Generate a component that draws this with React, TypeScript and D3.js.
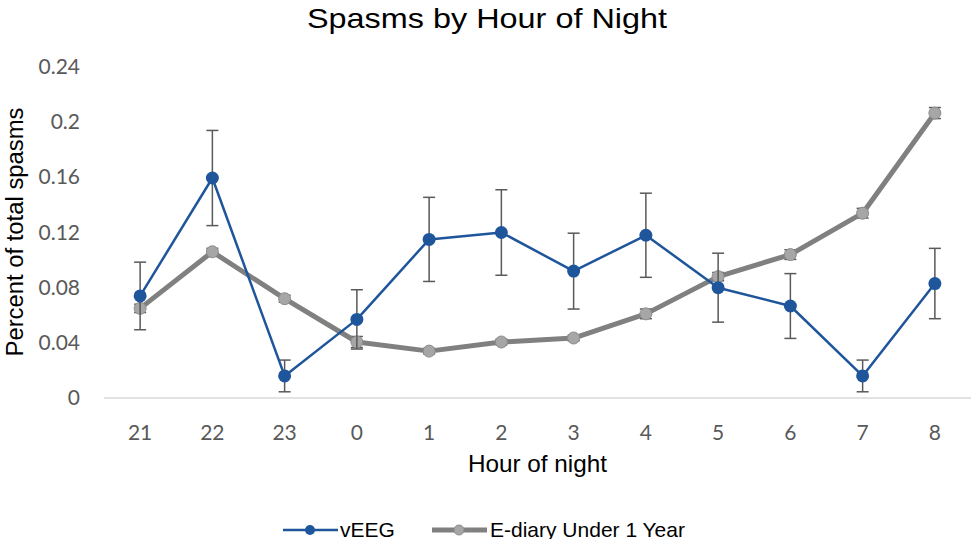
import React from "react";
import * as d3 from "d3";

const hours = ["21", "22", "23", "0", "1", "2", "3", "4", "5", "6", "7", "8"];
const veeg = [0.074, 0.1595, 0.016, 0.057, 0.115, 0.12, 0.092, 0.118, 0.08, 0.0667, 0.016, 0.083];
const veegErr = [0.0245, 0.0345, 0.0115, 0.0215, 0.0305, 0.031, 0.0275, 0.0305, 0.025, 0.0235, 0.0115, 0.0255];
const ediary = [0.065, 0.106, 0.072, 0.0406, 0.034, 0.0406, 0.0435, 0.061, 0.088, 0.104, 0.134, 0.2066];
const ediaryErr = [0.003, 0.0025, 0.0025, 0.004, 0.002, 0.002, 0.002, 0.0035, 0.003, 0.0035, 0.0035, 0.004];
const yTicks = [0, 0.04, 0.08, 0.12, 0.16, 0.2, 0.24];

const W = 975;
const H = 539;
const left = 104;
const right = 971;
const top = 67;
const bottom = 398;

export default function App() {
  const x = d3.scalePoint<string>().domain(hours).range([left, right]).padding(0.5);
  const y = d3.scaleLinear().domain([0, 0.24]).range([bottom, top]);
  const line = d3
    .line<number>()
    .x((_, i) => x(hours[i]) as number)
    .y((d) => y(d));

  const errBars = (vals: number[], errs: number[], key: string) =>
    vals.map((v, i) => {
      const cx = x(hours[i]) as number;
      const y1 = y(v + errs[i]);
      const y2 = y(v - errs[i]);
      return (
        <g key={key + i} stroke="#595959" strokeWidth={1.5}>
          <line x1={cx} x2={cx} y1={y1} y2={y2} />
          <line x1={cx - 6} x2={cx + 6} y1={y1} y2={y1} />
          <line x1={cx - 6} x2={cx + 6} y1={y2} y2={y2} />
        </g>
      );
    });

  const tickFont = "Lato, 'Open Sans', sans-serif";
  const titleFont = "'Liberation Sans', Arial, sans-serif";

  return (
    <svg
      width={W}
      height={H}
      style={{ position: "absolute", left: 0, top: 0, background: "#fff" }}
    >
      <rect width={W} height={H} fill="#fff" />
      <text
        x={487}
        y={28}
        textAnchor="middle"
        fontFamily={titleFont}
        fontSize={28}
        fill="#000"
        textLength={360}
        lengthAdjust="spacingAndGlyphs"
      >
        Spasms by Hour of Night
      </text>
      {/* y tick labels */}
      {yTicks.map((t) => (
        <text
          key={t}
          x={80}
          y={y(t) + 7}
          textAnchor="end"
          fontFamily={tickFont}
          fontSize={21}
          fill="#595959"
        >
          {String(t)}
        </text>
      ))}
      {/* baseline */}
      <line x1={left} x2={right} y1={bottom} y2={bottom} stroke="#d9d9d9" strokeWidth={1.5} />
      {/* x tick labels */}
      {hours.map((h) => (
        <text
          key={h}
          x={x(h) as number}
          y={440}
          textAnchor="middle"
          fontFamily={tickFont}
          fontSize={21}
          fill="#595959"
        >
          {h}
        </text>
      ))}
      <text
        x={537.5}
        y={472}
        textAnchor="middle"
        fontFamily={titleFont}
        fontSize={24}
        fill="#000"
        textLength={139}
        lengthAdjust="spacingAndGlyphs"
      >
        Hour of night
      </text>
      <text
        transform={`translate(23, 232) rotate(-90)`}
        textAnchor="middle"
        fontFamily={titleFont}
        fontSize={23}
        fill="#000"
        textLength={249}
        lengthAdjust="spacingAndGlyphs"
      >
        Percent of total spasms
      </text>

      {errBars(ediary, ediaryErr, "e")}
      <path d={line(ediary) || ""} fill="none" stroke="#808080" strokeWidth={5} strokeLinejoin="round" />
      {ediary.map((v, i) => (
        <circle key={"ec" + i} cx={x(hours[i]) as number} cy={y(v)} r={6} fill="#a6a6a6" stroke="#8c8c8c" strokeWidth={1} />
      ))}

      {errBars(veeg, veegErr, "v")}
      <path d={line(veeg) || ""} fill="none" stroke="#1f569b" strokeWidth={2.5} strokeLinejoin="round" />
      {veeg.map((v, i) => (
        <circle key={"vc" + i} cx={x(hours[i]) as number} cy={y(v)} r={6.5} fill="#1f569b" />
      ))}

      {/* legend */}
      <line x1={283} x2={338} y1={530} y2={530} stroke="#1f569b" strokeWidth={2.5} />
      <circle cx={310} cy={530} r={5} fill="#1f569b" />
      <text x={340} y={537} fontFamily={titleFont} fontSize={21} fill="#000">
        vEEG
      </text>
      <line x1={432} x2={487} y1={530} y2={530} stroke="#808080" strokeWidth={5} />
      <circle cx={459} cy={530} r={5} fill="#a6a6a6" stroke="#8c8c8c" strokeWidth={1} />
      <text x={490} y={537} fontFamily={titleFont} fontSize={21} fill="#000">
        E-diary Under 1 Year
      </text>
    </svg>
  );
}
